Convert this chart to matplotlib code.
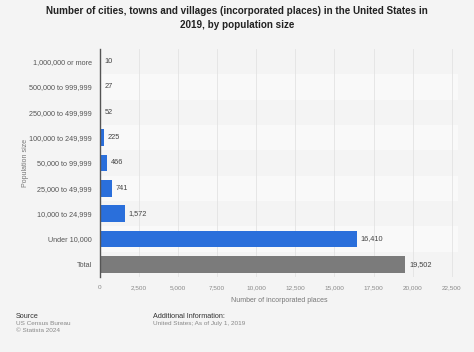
import matplotlib
matplotlib.use("Agg")
import matplotlib.pyplot as plt
import numpy as np

categories = ["1,000,000 or more", "500,000 to 999,999", "250,000 to 499,999",
              "100,000 to 249,999", "50,000 to 99,999", "25,000 to 49,999",
              "10,000 to 24,999", "Under 10,000", "Total"]
values = [10, 27, 52, 225, 466, 741, 1572, 16410, 19502]
xticks = [0, 2500, 5000, 7500, 10000, 12500, 15000, 17500, 20000, 22500]

plt.rcParams['font.family'] = ['Liberation Sans', 'DejaVu Sans']

BG = "#f4f4f4"
fig = plt.figure(figsize=(4.74, 3.52), dpi=100, facecolor=BG)
ax = fig.add_axes([100/474, 1-277/352, 358/474, 228/352])
ax.set_facecolor(BG)

n = len(categories)
y = np.arange(n)
for i in range(n):
    if i % 2 == 1:
        ax.axhspan(i-0.5, i+0.5, color="#f9f9f9", zorder=0, lw=0)

colors = ["#2a6fdb"]*(n-1) + ["#7b7b7b"]
ax.barh(y, values, height=0.65, color=colors, zorder=3)

for yi, v in zip(y, values):
    ax.text(v + 260, yi, f"{v:,}", va="center", ha="left", fontsize=5.3, color="#444444", zorder=4)

ax.set_ylim(n-0.5, -0.5)
ax.set_xlim(0, 22900)
ax.set_yticks(y)
ax.set_yticklabels(categories, fontsize=5.2, color="#555555")
ax.set_xticks(xticks)
ax.set_xticklabels([f"{t:,}" for t in xticks], fontsize=4.6, color="#888888")
ax.tick_params(axis="both", length=0, pad=6)
ax.grid(axis="x", color="#e3e3e3", lw=0.6, zorder=1)
ax.set_axisbelow(True)
for s in ["top", "right", "bottom"]:
    ax.spines[s].set_visible(False)
ax.spines["left"].set_color("#555555")
ax.spines["left"].set_linewidth(1.0)
ax.spines["left"].set_zorder(5)

ax.set_xlabel("Number of incorporated places", fontsize=5.0, color="#777777", labelpad=5)
ax.set_ylabel("Population size", fontsize=5.0, color="#777777", labelpad=0)

fig.text(0.5, 1-11/352, "Number of cities, towns and villages (incorporated places) in the United States in",
         ha="center", va="center", fontsize=7.15, fontweight="bold", color="#222222")
fig.text(0.5, 1-25.5/352, "2019, by population size",
         ha="center", va="center", fontsize=7.15, fontweight="bold", color="#222222")

fig.text(16/474, 1-316/352, "Source", fontsize=5.2, color="#333333", va="center")
fig.text(16/474, 1-323.5/352, "US Census Bureau", fontsize=4.6, color="#888888", va="center")
fig.text(16/474, 1-331/352, "© Statista 2024", fontsize=4.6, color="#888888", va="center")
fig.text(153/474, 1-316/352, "Additional Information:", fontsize=5.2, color="#333333", va="center")
fig.text(153/474, 1-323.5/352, "United States; As of July 1, 2019", fontsize=4.6, color="#888888", va="center")

fig.savefig("out.png", dpi=100, facecolor=BG)
